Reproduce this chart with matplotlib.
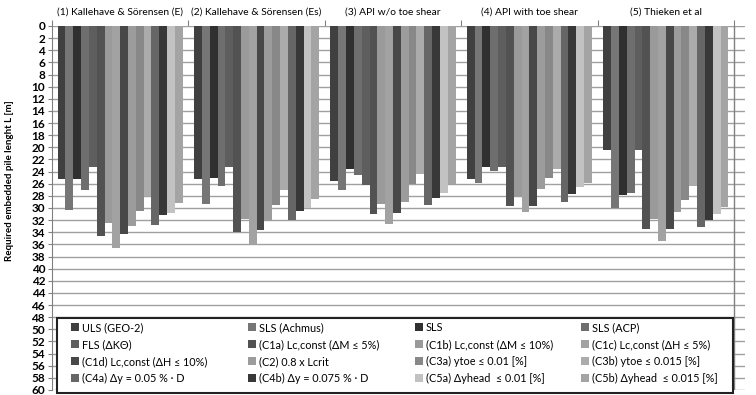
import matplotlib
matplotlib.use("Agg")
import matplotlib.pyplot as plt
from matplotlib.patches import Rectangle
import numpy as np

plt.rcParams['font.family'] = ['Lato', 'DejaVu Sans']

groups = ["(1) Kallehave & Sörensen (E)", "(2) Kallehave & Sörensen (Es)",
          "(3) API w/o toe shear", "(4) API with toe shear", "(5) Thieken et al"]

series = ["ULS (GEO-2)", "SLS (Achmus)", "SLS", "SLS (ACP)",
          "FLS (ΔKΘ)", "(C1a) Lc,const (ΔM ≤ 5%)", "(C1b) Lc,const (ΔM ≤ 10%)", "(C1c) Lc,const (ΔH ≤ 5%)",
          "(C1d) Lc,const (ΔH ≤ 10%)", "(C2) 0.8 x Lcrit", "(C3a) ytoe ≤ 0.01 [%]", "(C3b) ytoe ≤ 0.015 [%]",
          "(C4a) Δy = 0.05 % · D", "(C4b) Δy = 0.075 % · D", "(C5a) Δyhead  ≤ 0.01 [%]", "(C5b) Δyhead  ≤ 0.015 [%]"]

colors = ["#404040", "#767676", "#303030", "#6e6e6e",
          "#5e5e5e", "#525252", "#9a9a9a", "#a2a2a2",
          "#484848", "#9c9c9c", "#888888", "#ababab",
          "#666666", "#383838", "#c2c2c2", "#a4a4a4"]

# values per group (rows) for each of the 16 series (columns)
vals_g1 = [25.3, 30.3, 25.3, 27.0, 23.2, 34.6, 32.4, 36.6, 34.3, 33.0, 30.5, 28.0, 32.8, 31.1, 30.8, 29.2]
vals_g2 = [25.3, 29.3, 25.0, 26.3, 23.3, 33.9, 31.8, 35.9, 33.6, 32.1, 29.5, 27.0, 32.0, 30.5, 30.0, 28.5]
vals_g3 = [25.5, 27.0, 23.6, 24.5, 26.2, 31.0, 29.4, 32.6, 30.9, 29.0, 26.0, 24.4, 29.5, 28.3, 27.5, 26.1]
vals_g4 = [25.2, 25.8, 23.2, 23.9, 23.2, 29.7, 28.2, 30.6, 29.6, 26.8, 25.0, 23.6, 29.0, 27.7, 26.6, 25.9]
vals_g5 = [20.4, 30.0, 27.8, 27.5, 20.4, 33.5, 31.8, 35.5, 33.5, 30.6, 28.7, 26.3, 33.2, 32.0, 31.0, 29.8]

yticks = list(range(0, 62, 2))

data = np.array([vals_g1, vals_g2, vals_g3, vals_g4, vals_g5])

W, H = 756, 395
fig = plt.figure(figsize=(W/100, H/100), dpi=100)
ax = fig.add_axes([52/W, 1-390/H, (745-52)/W, (390-26)/H])

n = len(series)
group_w = 0.917
bw = group_w / n
xc = np.arange(len(groups))
handles = []
for i in range(n):
    xs = xc - group_w/2 + bw*(i+0.5)
    h = ax.bar(xs, data[:, i], width=bw, color=colors[i], label=series[i], zorder=3, linewidth=0)
    handles.append(h)

ax.set_ylim(60, 0)
ax.set_xlim(-0.5, 4.5 + 11/136.4)
ax.set_yticks(yticks)
ax.set_yticklabels([str(t) for t in yticks], fontsize=8.5, fontweight='bold')
ax.yaxis.grid(True, color='#a0a0a0', linewidth=1.0, zorder=0)
ax.tick_params(axis='y', length=3, color='#808080', pad=2)

ax.xaxis.tick_top()
ax.set_xticks(np.arange(-0.5, 5.0, 1.0))
ax.set_xticklabels([])
ax.tick_params(axis='x', length=4, color='#808080', direction='out')
ax.axvline(4.5, color='#808080', linewidth=1.0, zorder=2)

for s in ['top', 'right', 'bottom']:
    ax.spines[s].set_visible(False)
ax.spines['left'].set_color('#808080')

for g, name in enumerate(groups):
    ax.text(g, 1.0 + 14/364, name, transform=ax.get_xaxis_transform(), ha='center', va='center', fontsize=7.4)

fig.text(10/W, 1-181/H, "Required embedded pile lenght L [m]", rotation=90,
         ha='center', va='center', fontsize=7, fontweight='bold')

# legend frame
frame = Rectangle((57/W, 1-393/H), (733-57)/W, (393-318)/H, transform=fig.transFigure,
                  facecolor='white', edgecolor='#222222', linewidth=1.5, zorder=4)
fig.add_artist(frame)

# legend: four columns, row-major order as in the reference
col_x = [71, 248, 415, 581]
ncol = 4
for c in range(ncol):
    idx = [c + ncol*r for r in range(4)]
    leg = fig.legend([handles[i] for i in idx], [series[i] for i in idx], ncol=1,
                     loc='upper left', bbox_to_anchor=(col_x[c]/W, 1-322/H),
                     fontsize=7.8, handlelength=0.7, handleheight=0.7, handletextpad=0.3,
                     borderaxespad=0, frameon=False, labelspacing=0.55, borderpad=0.0)
    leg.set_zorder(6)

fig.savefig("out.png", dpi=100)
